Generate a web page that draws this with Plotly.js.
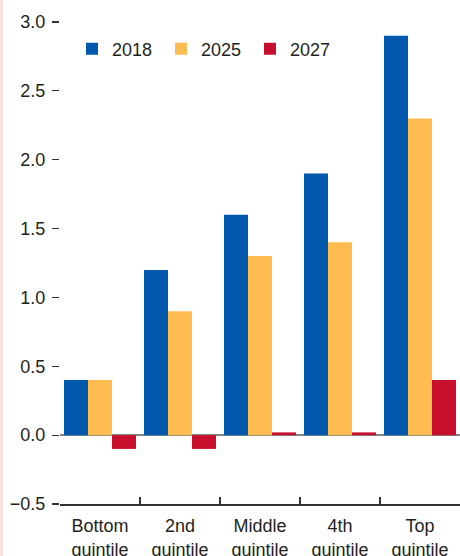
<!DOCTYPE html>
<html>
<head>
<meta charset="utf-8">
<script src="https://cdn.plot.ly/plotly-3.0.1.min.js"></script>
<style>
  html, body { margin: 0; padding: 0; background: #ffffff; }
  #wrap { position: relative; width: 460px; height: 556px; overflow: hidden; }
  #chart { width: 460px; height: 556px; }
  #strip { position: absolute; left: 0; top: 0; width: 3px; height: 556px; background: #f8e3dc; z-index: 5; }
</style>
</head>
<body>
<div id="wrap">
  <div id="strip"></div>
  <div id="chart"></div>
</div>
<script>
const categories = ["Bottom<br>quintile", "2nd<br>quintile", "Middle<br>quintile", "4th<br>quintile", "Top<br>quintile"];
const seriesNames = ["2018", "2025", "2027"];
const values2018 = [0.4, 1.2, 1.6, 1.9, 2.9];
const values2025 = [0.4, 0.9, 1.3, 1.4, 2.3];
const values2027 = [-0.1, -0.1, 0.02, 0.02, 0.4];
const yTickVals = [-0.5, 0, 0.5, 1.0, 1.5, 2.0, 2.5, 3.0];
const yTickText = ["\u22120.5", "0.0", "0.5", "1.0", "1.5", "2.0", "2.5", "3.0"];

const colors = ["#0059ad", "#fdbb50", "#c8102e"];
const allValues = [values2018, values2025, values2027];

const font = "\"Liberation Sans\", Arial, sans-serif";
const textColor = "#231f20";
const fs = 18;

const traces = seriesNames.map((name, i) => ({
  type: "bar",
  name: name,
  x: categories,
  y: allValues[i],
  marker: { color: colors[i], line: { width: 0 } },
  hoverinfo: "skip"
}));

const layout = {
  width: 460,
  height: 556,
  margin: { l: 60, r: 0, t: 22, b: 52 },
  paper_bgcolor: "#ffffff",
  plot_bgcolor: "#ffffff",
  font: { family: font, size: fs, color: textColor },
  barmode: "group",
  bargap: 0.1,
  bargroupgap: 0,
  showlegend: true,
  legend: {
    orientation: "h",
    x: 0.03,
    xanchor: "left",
    y: 0.944,
    yanchor: "middle",
    bgcolor: "rgba(0,0,0,0)",
    font: { family: font, size: fs, color: textColor },
    entrywidth: 44,
    entrywidthmode: "pixels",
    traceorder: "normal"
  },
  xaxis: {
    type: "category",
    showgrid: false,
    zeroline: false,
    showline: true,
    linecolor: "#333333",
    linewidth: 1.5,
    ticks: "inside",
    tickson: "boundaries",
    ticklen: 7,
    tickwidth: 1.5,
    tickcolor: "#333333",
    ticklabelstandoff: 5,
    tickfont: { family: font, size: fs, color: textColor },
    fixedrange: true
  },
  yaxis: {
    range: [-0.5, 3.0],
    tickvals: yTickVals,
    ticktext: yTickText,
    showgrid: false,
    showline: false,
    zeroline: true,
    zerolinecolor: "#858585",
    zerolinewidth: 1.5,
    ticks: "outside",
    ticklen: 7,
    tickwidth: 1.2,
    tickcolor: "#333333",
    ticklabelstandoff: 3,
    tickfont: { family: font, size: fs, color: textColor },
    fixedrange: true
  }
};

Plotly.newPlot("chart", traces, layout, { staticPlot: true, displayModeBar: false });
</script>
</body>
</html>
